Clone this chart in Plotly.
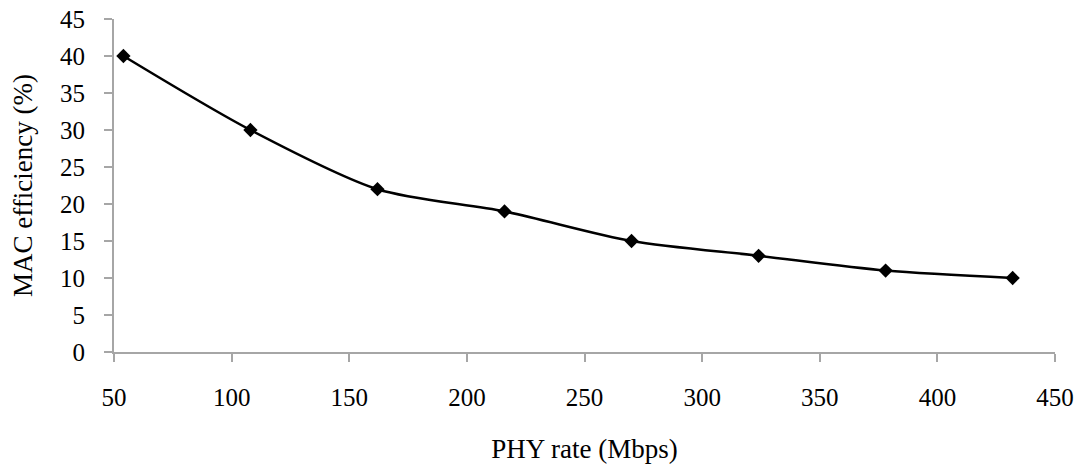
import plotly.graph_objects as go

phy_rate = [54, 108, 162, 216, 270, 324, 378, 432]
mac_eff = [40, 30, 22, 19, 15, 13, 11, 10]
x_ticks = [50, 100, 150, 200, 250, 300, 350, 400, 450]
y_ticks = [0, 5, 10, 15, 20, 25, 30, 35, 40, 45]

font_family = "Liberation Serif, Times New Roman, serif"
axis_col = "#a6a6a6"

fig = go.Figure(go.Scatter(
    x=phy_rate, y=mac_eff, mode="lines+markers",
    line=dict(color="black", width=2.5, shape="spline", smoothing=0.8),
    marker=dict(symbol="diamond", size=11, color="black"),
    showlegend=False,
))

fig.update_layout(
    width=1080, height=464,
    margin=dict(l=114, r=25, t=19, b=112, autoexpand=False),
    paper_bgcolor="white", plot_bgcolor="white",
    font=dict(family=font_family, size=23, color="black"),
)
fig.update_xaxes(
    range=[50, 450], tickvals=x_ticks, showgrid=False, zeroline=False,
    showline=True, linecolor=axis_col, linewidth=2,
    ticks="outside", ticklen=8, tickwidth=2, tickcolor=axis_col,
    ticklabelstandoff=14, automargin=False,
    tickfont=dict(family=font_family, size=25, color="black"),
    title=dict(text="PHY rate (Mbps)", standoff=30,
               font=dict(family=font_family, size=27, color="black")),
)
fig.update_yaxes(
    range=[0, 45], tickvals=y_ticks, showgrid=False, zeroline=False,
    showline=True, linecolor=axis_col, linewidth=2,
    ticks="outside", ticklen=8, tickwidth=2, tickcolor=axis_col,
    ticklabelstandoff=14, automargin=False,
    tickfont=dict(family=font_family, size=25, color="black"),
    title=dict(text="MAC efficiency (%)", standoff=20,
               font=dict(family=font_family, size=27, color="black")),
)

fig.write_html(
    "out.html",
    config={"displayModeBar": False},
    post_script="document.body.style.margin='0';document.body.style.overflow='hidden';",
)
